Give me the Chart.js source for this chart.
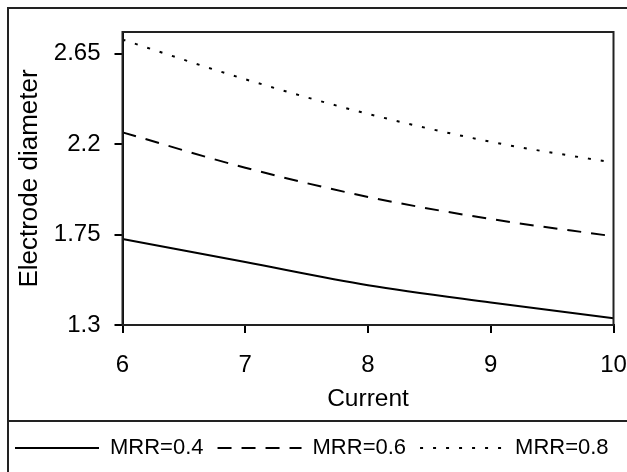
<!DOCTYPE html>
<html>
<head>
<meta charset="utf-8">
<script src="https://cdn.jsdelivr.net/npm/chart.js@4"></script>
<style>
  html, body { margin: 0; padding: 0; background: #fff; }
  #wrap { width: 627px; height: 472px; }
</style>
</head>
<body>
<div id="wrap"><canvas id="diamChart" width="627" height="472"></canvas></div>
<script>
const current = [6, 7, 8, 9, 10];
const mrr04 = [1.728, 1.613, 1.498, 1.412, 1.333];
const mrr06 = [2.258, 2.082, 1.937, 1.827, 1.741];
const mrr08 = [2.719, 2.522, 2.350, 2.211, 2.107];
const yTicks = [1.3, 1.75, 2.2, 2.65];
const seriesNames = ['MRR=0.4', 'MRR=0.6', 'MRR=0.8'];

function pts(ys) {
    return current.map(function (x, i) { return { x: x, y: ys[i] }; });
}

// outer frame, legend separator and plot box
const framePlugin = {
    id: 'frame',
    afterDraw: function (chart) {
        const ctx = chart.ctx;
        const a = chart.chartArea;
        ctx.save();
        ctx.strokeStyle = '#222';
        ctx.lineWidth = 2;
        ctx.beginPath();
        ctx.moveTo(8, 472);
        ctx.lineTo(8, 8);
        ctx.lineTo(627, 8);
        ctx.moveTo(8, 421);
        ctx.lineTo(627, 421);
        ctx.stroke();
        ctx.strokeRect(a.left, a.top, a.right - a.left, a.bottom - a.top);
        ctx.restore();
    }
};

const font = "'Liberation Sans', Arial, sans-serif";

const ctx = document.getElementById('diamChart').getContext('2d');
const chart = new Chart(ctx, {
    type: 'line',
    data: {
        datasets: [
            { label: seriesNames[0], data: pts(mrr04), borderDash: [] },
            { label: seriesNames[1], data: pts(mrr06), borderDash: [14, 10] },
            { label: seriesNames[2], data: pts(mrr08), borderDash: [3, 10] }
        ].map(function (d) {
            return Object.assign(d, {
                borderColor: '#000',
                backgroundColor: '#000',
                borderWidth: 2,
                pointRadius: 0,
                pointStyle: 'line',
                cubicInterpolationMode: 'monotone',
                fill: false
            });
        })
    },
    options: {
        responsive: false,
        animation: false,
        layout: { padding: { left: 1, right: 1, top: 32, bottom: 3 } },
        scales: {
            x: {
                type: 'linear',
                min: 6,
                max: 10,
                ticks: { stepSize: 1, color: '#000', padding: 18, font: { family: font, size: 24 } },
                grid: { drawOnChartArea: false, tickLength: 8, color: '#000', lineWidth: 2 },
                border: { display: true, color: '#000', width: 2 },
                title: { display: true, text: 'Current', color: '#000', padding: { top: 0, bottom: 9 }, font: { family: font, size: 24.5 } },
                afterFit: function (scale) {
                    scale.height = 98;
                    scale.paddingLeft = 0;
                    scale.paddingRight = 13.5;
                }
            },
            y: {
                min: 1.3,
                max: 2.757,
                afterBuildTicks: function (scale) {
                    scale.ticks = yTicks.map(function (v) { return { value: v }; });
                },
                ticks: {
                    color: '#000',
                    padding: 14,
                    font: { family: font, size: 24 },
                    callback: function (v) { return String(v); }
                },
                grid: { drawOnChartArea: false, tickLength: 8, color: '#000', lineWidth: 2 },
                border: { display: true, color: '#000', width: 2 },
                title: { display: true, text: 'Electrode diameter', color: '#000', padding: 13, font: { family: font, size: 26 } },
                afterFit: function (scale) { scale.width = 121.5; }
            }
        },
        plugins: {
            legend: {
                position: 'bottom',
                align: 'start',
                labels: {
                    usePointStyle: true,
                    pointStyle: 'line',
                    pointStyleWidth: 84,
                    padding: 14,
                    color: '#000',
                    font: { family: font, size: 22 },
                    generateLabels: function (chart) {
                        const items = Chart.defaults.plugins.legend.labels.generateLabels(chart);
                        items.forEach(function (it) {
                            const ds = chart.data.datasets[it.datasetIndex];
                            it.lineDash = ds.borderDash;
                            it.lineWidth = 2;
                            it.strokeStyle = '#000';
                        });
                        return items;
                    }
                }
            },
            tooltip: { enabled: false }
        }
    },
    plugins: [framePlugin]
});
</script>
</body>
</html>
